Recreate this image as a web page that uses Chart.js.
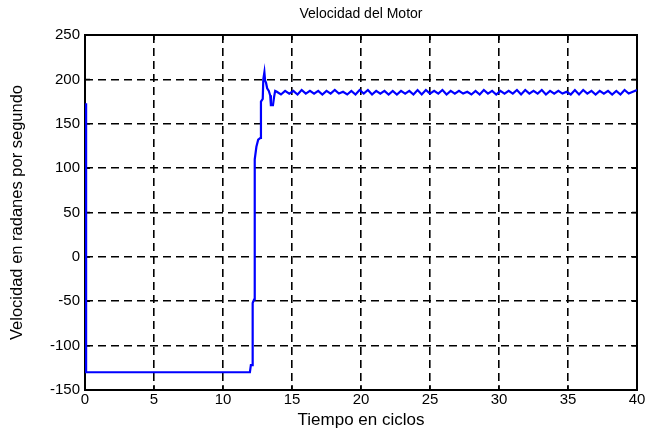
<!DOCTYPE html>
<html>
<head>
<meta charset="utf-8">
<script src="https://cdn.jsdelivr.net/npm/chart.js@4"></script>
<style>
    body { margin: 0; background: #fff; }
    #wrap { width: 652px; height: 433px; }
</style>
</head>
<body>
<div id="wrap"><canvas id="MotorChart"></canvas></div>
<script>
// tiempo (ciclos) y velocidad (rad/s)
const timeSteps = [
    0.08, 0.08, 11.95, 12.02, 12.12, 12.15, 12.25, 12.3, 12.42, 12.55, 12.72, 12.75,
    12.88, 12.92, 13.0, 13.05, 13.12, 13.2, 13.32, 13.42, 13.47, 13.62, 13.7, 13.78,
    13.9, 14.2, 14.5, 14.8, 15.1, 15.4, 15.7, 16.0, 16.3, 16.6, 16.9, 17.2, 17.5, 17.8,
    18.1, 18.4, 18.7, 19.0, 19.3, 19.6, 19.9, 20.2, 20.5, 20.8, 21.1, 21.4, 21.7, 22.0,
    22.3, 22.6, 22.9, 23.2, 23.5, 23.8, 24.1, 24.4, 24.7, 25.0, 25.3, 25.6, 25.9, 26.2,
    26.5, 26.8, 27.1, 27.4, 27.7, 28.0, 28.3, 28.6, 28.9, 29.2, 29.5, 29.8, 30.1, 30.4,
    30.7, 31.0, 31.3, 31.6, 31.9, 32.2, 32.5, 32.8, 33.1, 33.4, 33.7, 34.0, 34.3, 34.6,
    34.9, 35.2, 35.5, 35.8, 36.1, 36.4, 36.7, 37.0, 37.3, 37.6, 37.9, 38.2, 38.5, 38.8,
    39.1, 39.4, 39.7, 40.0
];
const speedValues = [
    173, -130, -130, -122, -122, -52, -48, 110, 124, 132, 134, 175,
    178, 200, 208, 199, 196, 190, 187, 182, 171, 171, 180, 187,
    186, 183, 187, 184, 187, 183, 188, 184, 187, 184,
    187, 183, 187, 184, 188, 184, 186, 183, 187, 183,
    188, 184, 188, 183, 187, 184, 187, 183, 187, 183,
    187, 184, 187, 183, 188, 183, 188, 184, 187, 184,
    188, 183, 187, 184, 187, 184, 186, 183, 187, 183,
    188, 184, 187, 183, 187, 184, 187, 184, 188, 183,
    188, 184, 187, 184, 188, 183, 187, 184, 187, 184,
    186, 183, 188, 183, 188, 184, 187, 183, 187, 184,
    187, 183, 187, 183, 188, 184, 186, 188
];
const xTickValues = [0, 5, 10, 15, 20, 25, 30, 35, 40];
const yTickValues = [-150, -100, -50, 0, 50, 100, 150, 200, 250];

const points = [];
for (let k = 0; k < Math.min(timeSteps.length, speedValues.length); k++) {
    points.push({ x: timeSteps[k], y: speedValues[k] });
}

const fontName = "'Liberation Sans', Arial, sans-serif";

// caja negra y marcas hacia dentro, estilo matlab
const boxPlugin = {
    id: 'boxPlugin',
    beforeDatasetsDraw(chart) {
        const ctx = chart.ctx;
        const a = chart.chartArea;
        const xs = chart.scales.x;
        const ys = chart.scales.y;
        ctx.save();
        ctx.strokeStyle = '#000';
        ctx.lineWidth = 1.5;
        ctx.beginPath();
        xTickValues.forEach(function (v) {
            const px = xs.getPixelForValue(v);
            ctx.moveTo(px, a.bottom); ctx.lineTo(px, a.bottom - 5);
            ctx.moveTo(px, a.top); ctx.lineTo(px, a.top + 5);
        });
        yTickValues.forEach(function (v) {
            const py = ys.getPixelForValue(v);
            ctx.moveTo(a.left, py); ctx.lineTo(a.left + 5, py);
            ctx.moveTo(a.right, py); ctx.lineTo(a.right - 5, py);
        });
        ctx.stroke();
        ctx.lineWidth = 2;
        ctx.strokeRect(a.left, a.top, a.right - a.left, a.bottom - a.top);
        ctx.restore();
    }
};

const config = {
    type: 'scatter',
    data: {
        datasets: [{
            data: points,
            showLine: true,
            borderColor: '#0000ff',
            borderWidth: 2.2,
            pointRadius: 0,
            fill: false,
            tension: 0
        }]
    },
    options: {
        animation: false,
        responsive: true,
        maintainAspectRatio: false,
        devicePixelRatio: 1,
        layout: { padding: { top: 0, right: 15, bottom: 0, left: 0 } },
        plugins: {
            legend: { display: false },
            tooltip: { enabled: false },
            title: {
                display: true,
                fullSize: false,
                text: 'Velocidad del Motor',
                color: '#000',
                font: { family: fontName, size: 14, weight: 'normal' },
                padding: { top: 6, bottom: 12.2 }
            }
        },
        scales: {
            x: {
                type: 'linear',
                min: 0,
                max: 40,
                afterBuildTicks: function (scale) {
                    scale.ticks = xTickValues.map(function (v) { return { value: v }; });
                },
                afterFit: function (scale) { scale.height = 43; },
                grid: { color: '#000', lineWidth: 1.6, drawTicks: false },
                border: { display: false, dash: [8, 5] },
                ticks: {
                    color: '#000',
                    padding: 1,
                    maxRotation: 0,
                    font: { family: fontName, size: 15 }
                },
                title: {
                    display: true,
                    text: 'Tiempo en ciclos',
                    color: '#000',
                    font: { family: fontName, size: 17 },
                    padding: { top: 0, bottom: 2 }
                }
            },
            y: {
                type: 'linear',
                min: -150,
                max: 250,
                afterBuildTicks: function (scale) {
                    scale.ticks = yTickValues.map(function (v) { return { value: v }; });
                },
                afterFit: function (scale) { scale.width = 85; },
                grid: { color: '#000', lineWidth: 1.6, drawTicks: false },
                border: { display: false, dash: [8, 5] },
                ticks: {
                    color: '#000',
                    padding: 5,
                    font: { family: fontName, size: 15 }
                },
                title: {
                    display: true,
                    text: 'Velocidad en radanes por segundo',
                    color: '#000',
                    font: { family: fontName, size: 16.5 },
                    padding: { top: 8, bottom: 0 }
                }
            }
        }
    },
    plugins: [boxPlugin]
};

new Chart(document.getElementById('MotorChart'), config);
</script>
</body>
</html>
